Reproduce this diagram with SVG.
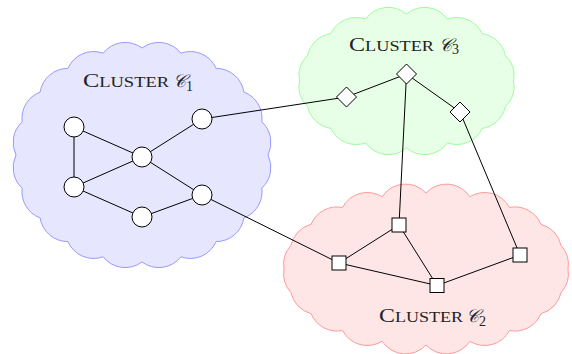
<svg xmlns="http://www.w3.org/2000/svg" width="572" height="354" viewBox="0 0 572 354">
<style>
.lbl{font-family:"Liberation Serif","DejaVu Serif",serif;fill:#222}
.cap{font-size:18.5px}
.sc{font-size:14px}
.cal{font-size:18px;font-style:italic}
.sub{font-size:14px}
.edge{stroke:#000;stroke-width:1;fill:none}
.nd{fill:#fff;stroke:#000;stroke-width:1}
</style>
<g id="cluster1">
<path fill="#e6e6ff" stroke="#9999ff" stroke-width="1" d="M268,155 A28,28 0 0 1 261.8,188.1 A28,28 0 0 1 243.9,217.9 A28,28 0 0 1 216.1,241.6 A28,28 0 0 1 180.9,256.8 A28,28 0 0 1 142,262 A28,28 0 0 1 103.1,256.8 A28,28 0 0 1 67.9,241.6 A28,28 0 0 1 40.1,217.9 A28,28 0 0 1 22.2,188.1 A28,28 0 0 1 16,155 A28,28 0 0 1 22.2,121.9 A28,28 0 0 1 40.1,92.1 A28,28 0 0 1 67.9,68.4 A28,28 0 0 1 103.1,53.2 A28,28 0 0 1 142,48 A28,28 0 0 1 180.9,53.2 A28,28 0 0 1 216.1,68.4 A28,28 0 0 1 243.9,92.1 A28,28 0 0 1 261.8,121.9 A28,28 0 0 1 268,155 Z"/>
<text class="lbl" x="83" y="87" textLength="86" lengthAdjust="spacingAndGlyphs"><tspan class="cap">C</tspan><tspan class="sc">LUSTER</tspan></text>
<text class="lbl" x="173" y="87"><tspan class="cal">𝒞</tspan><tspan class="sub" dy="3.5">1</tspan></text>
</g>
<g id="cluster3">
<path fill="#e6ffe6" stroke="#99ff99" stroke-width="1" d="M513.5,81 A28,28 0 0 1 505.4,106.6 A28,28 0 0 1 482.2,128.4 A28,28 0 0 1 447.4,142.9 A28,28 0 0 1 406.5,148 A28,28 0 0 1 365.6,142.9 A28,28 0 0 1 330.8,128.4 A28,28 0 0 1 307.6,106.6 A28,28 0 0 1 299.5,81 A28,28 0 0 1 307.6,55.4 A28,28 0 0 1 330.8,33.6 A28,28 0 0 1 365.6,19.1 A28,28 0 0 1 406.5,14 A28,28 0 0 1 447.4,19.1 A28,28 0 0 1 482.2,33.6 A28,28 0 0 1 505.4,55.4 A28,28 0 0 1 513.5,81 Z"/>
<text class="lbl" x="349" y="50.5" textLength="85" lengthAdjust="spacingAndGlyphs"><tspan class="cap">C</tspan><tspan class="sc">LUSTER</tspan></text>
<text class="lbl" x="439" y="50.5"><tspan class="cal">𝒞</tspan><tspan class="sub" dy="3.5">3</tspan></text>
</g>
<g id="cluster2">
<path fill="#ffe6e6" stroke="#ff9999" stroke-width="1" d="M568,269 A28,28 0 0 1 561.1,292.5 A28,28 0 0 1 540.9,313.7 A28,28 0 0 1 509.5,330.5 A28,28 0 0 1 469.9,341.3 A28,28 0 0 1 426,345 A28,28 0 0 1 382.1,341.3 A28,28 0 0 1 342.5,330.5 A28,28 0 0 1 311.1,313.7 A28,28 0 0 1 290.9,292.5 A28,28 0 0 1 284,269 A28,28 0 0 1 290.9,245.5 A28,28 0 0 1 311.1,224.3 A28,28 0 0 1 342.5,207.5 A28,28 0 0 1 382.1,196.7 A28,28 0 0 1 426,193 A28,28 0 0 1 469.9,196.7 A28,28 0 0 1 509.5,207.5 A28,28 0 0 1 540.9,224.3 A28,28 0 0 1 561.1,245.5 A28,28 0 0 1 568,269 Z"/>
<text class="lbl" x="379" y="322" textLength="84" lengthAdjust="spacingAndGlyphs"><tspan class="cap">C</tspan><tspan class="sc">LUSTER</tspan></text>
<text class="lbl" x="466" y="322"><tspan class="cal">𝒞</tspan><tspan class="sub" dy="3.5">2</tspan></text>
</g>
<g id="connectors" class="edge">
<line x1="74" y1="127" x2="74" y2="187"/>
<line x1="74" y1="127" x2="142" y2="157"/>
<line x1="74" y1="187" x2="142" y2="157"/>
<line x1="142" y1="157" x2="202" y2="119"/>
<line x1="142" y1="157" x2="202" y2="195"/>
<line x1="74" y1="187" x2="142" y2="217"/>
<line x1="142" y1="217" x2="202" y2="195"/>
<line x1="202" y1="119" x2="346.5" y2="97"/>
<line x1="202" y1="195" x2="339" y2="263"/>
<line x1="346.5" y1="97" x2="406.5" y2="74"/>
<line x1="406.5" y1="74" x2="460" y2="112"/>
<line x1="406.5" y1="74" x2="399" y2="225"/>
<line x1="460" y1="112" x2="520" y2="255"/>
<line x1="339" y1="263" x2="399" y2="225"/>
<line x1="339" y1="263" x2="437" y2="285.5"/>
<line x1="399" y1="225" x2="437" y2="285.5"/>
<line x1="437" y1="285.5" x2="520" y2="255"/>
</g>
<g id="n1a"><circle class="nd" cx="74" cy="127" r="10"/></g>
<g id="n1b"><circle class="nd" cx="74" cy="187" r="10"/></g>
<g id="n1c"><circle class="nd" cx="142" cy="157" r="10"/></g>
<g id="n1d"><circle class="nd" cx="202" cy="119" r="10"/></g>
<g id="n1e"><circle class="nd" cx="202" cy="195" r="10"/></g>
<g id="n1f"><circle class="nd" cx="142" cy="217" r="10"/></g>
<g id="n3a"><path class="nd" d="M346.5,87 L356.5,97 L346.5,107 L336.5,97 Z"/></g>
<g id="n3b"><path class="nd" d="M406.5,64 L416.5,74 L406.5,84 L396.5,74 Z"/></g>
<g id="n3c"><path class="nd" d="M460,102 L470,112 L460,122 L450,112 Z"/></g>
<g id="n2a"><rect class="nd" x="332" y="256" width="14" height="14"/></g>
<g id="n2b"><rect class="nd" x="392" y="218" width="14" height="14"/></g>
<g id="n2c"><rect class="nd" x="430" y="278.5" width="14" height="14"/></g>
<g id="n2d"><rect class="nd" x="513" y="248" width="14" height="14"/></g>
</svg>
